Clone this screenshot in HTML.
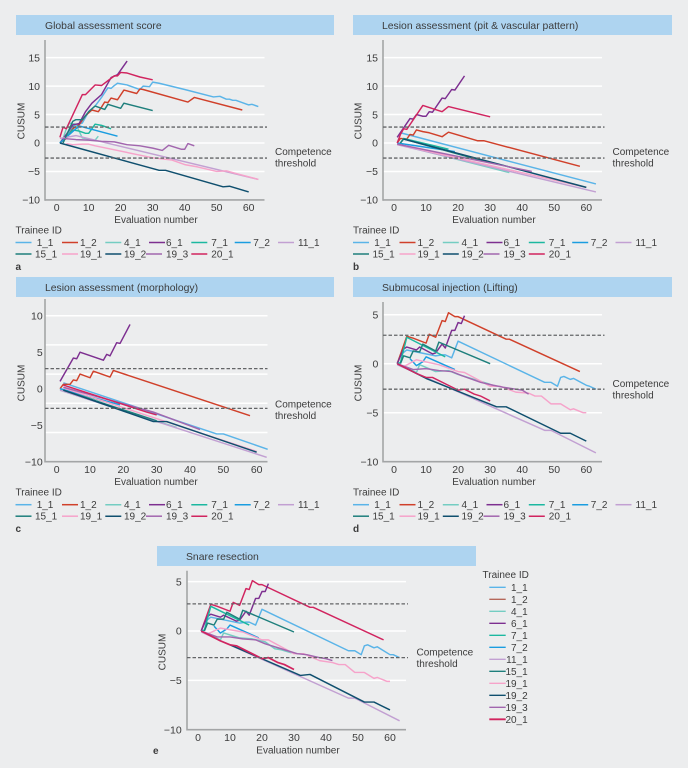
<!DOCTYPE html>
<html lang="en">
<head>
<meta charset="utf-8">
<title>CUSUM learning curves</title>
<style>
html,body{margin:0;padding:0;background:#ecedee;}
svg{display:block;}
text{font-family:"Liberation Sans",sans-serif;font-size:10px;fill:#3c3c3c;}
.tick{font-size:10.500px;}
.title{font-size:10.400px;}
.letter{font-weight:bold;}
</style>
</head>
<body>
<svg id="fig" xmlns="http://www.w3.org/2000/svg" width="688" height="768" viewBox="0 0 688 768">
<rect width="688" height="768" fill="#ecedee"/>

<rect x="16" y="15" width="318" height="20" fill="#aed4f0"/>
<text class="title" x="45" y="29">Global assessment score</text>
<rect x="353" y="15" width="319" height="20" fill="#aed4f0"/>
<text class="title" x="382" y="29">Lesion assessment (pit &amp; vascular pattern)</text>
<rect x="16" y="277" width="318" height="20" fill="#aed4f0"/>
<text class="title" x="45" y="291">Lesion assessment (morphology)</text>
<rect x="353" y="277" width="319" height="20" fill="#aed4f0"/>
<text class="title" x="382" y="291">Submucosal injection (Lifting)</text>
<rect x="157" y="546" width="319" height="20" fill="#aed4f0"/>
<text class="title" x="186" y="560">Snare resection</text>

<text x="156" y="223" text-anchor="middle">Evaluation number</text>
<text x="494" y="223" text-anchor="middle">Evaluation number</text>
<text x="156" y="485" text-anchor="middle">Evaluation number</text>
<text x="494" y="485" text-anchor="middle">Evaluation number</text>
<text x="298" y="753.500" text-anchor="middle">Evaluation number</text>

<text transform="translate(24.500,121) rotate(-90)" text-anchor="middle">CUSUM</text>
<text transform="translate(361.500,121) rotate(-90)" text-anchor="middle">CUSUM</text>
<text transform="translate(24.500,383) rotate(-90)" text-anchor="middle">CUSUM</text>
<text transform="translate(361.500,383) rotate(-90)" text-anchor="middle">CUSUM</text>
<text transform="translate(165.500,652) rotate(-90)" text-anchor="middle">CUSUM</text>

<text x="275" y="155">Competence<tspan x="275" y="166.500">threshold</tspan></text>
<text x="612.500" y="155">Competence<tspan x="612.500" y="166.500">threshold</tspan></text>
<text x="275" y="407.500">Competence<tspan x="275" y="419">threshold</tspan></text>
<text x="612.500" y="387">Competence<tspan x="612.500" y="398.500">threshold</tspan></text>
<text x="416.500" y="655.500">Competence<tspan x="416.500" y="667">threshold</tspan></text>

<text x="15.500" y="233.500">Trainee ID</text>
<text x="353" y="233.500">Trainee ID</text>
<text x="15.500" y="495.500">Trainee ID</text>
<text x="353" y="495.500">Trainee ID</text>
<text x="482.500" y="578">Trainee ID</text>

<text class="letter" x="15.500" y="270">a</text>
<text class="letter" x="353" y="270">b</text>
<text class="letter" x="15.500" y="532">c</text>
<text class="letter" x="353" y="532">d</text>
<text class="letter" x="153" y="754">e</text>
</svg>

<script>
const trainees = ['1_1','1_2','4_1','6_1','7_1','7_2','11_1','15_1','19_1','19_2','19_3','20_1'];
const xTickValues = [0,10,20,30,40,50,60];
const yTicksAB = [15,10,5,0,-5,-10];
const yTicksC = [10,5,0,-5,-10];
const yTicksDE = [5,0,-5,-10];
const gridAB = [15,10,5,0,-5];
const gridC = [10,6,2,-2,-6];
const gridDE = [5,0,-5];

const thresholdsA = [2.8,-2.65];
const thresholdsB = [2.8,-2.65];
const thresholdsC = [2.75,-2.7];
const thresholdsD = [2.9,-2.6];
const thresholdsE = [2.75,-2.7];

/* each series: [evaluation number, CUSUM] breakpoints, in trainee order */
const panelAValues = [
 [[1,0],[3,1],[5,3],[8,3.5],[10,5.5],[12,6.5],[14,8],[16,9.7],[17,9.6],[18,10.1],[19,10.5],[22,10.2],[26,9.4],[27,10],[29,9.9],[30,10.7],[32,10.5],[40,9.4],[49,8.1],[51,8.2],[53,7.7],[54,7.7],[55,7.5],[56,7.5],[60,6.7],[61,6.8],[63,6.4]],
 [[1,0],[3,0.8],[5,2.5],[7,3.2],[9,4.8],[11,5.8],[13,5.5],[14,6.3],[15,7.2],[16,7.1],[17,7.9],[19,7.6],[21,9.3],[25,8.7],[26,9.5],[27,9.4],[41,7.2],[43,8],[58,5.8]],
 [[1,0],[2,0.8],[3,2.5],[4,3.5],[6,3.3],[8,0.9],[10,0.7],[12,0.5],[13,1.2]],
 [[1,0],[3,1.5],[5,3.2],[7,3.4],[9,5.5],[11,7],[14,8.5],[17,11.5],[19,12],[22,14.4]],
 [[1,0],[3,1],[5,2.3],[7,2.1],[9,1.7],[10,1.7],[12,3.3],[14,3.1],[17,2.5]],
 [[1,0],[5,2],[7,3],[19,1.2]],
 [[1,0.8],[6,1.3],[63,-6.4]],
 [[2,0],[5,3.8],[6,4.1],[8,4.1],[10,5.5],[12,6.5],[15,5.9],[16,6.8],[20,6.1],[21,7],[30,5.7]],
 [[3,-0.1],[5,-0.3],[8,-0.2],[10,-0.2],[12,-0.5],[30,-2.6],[36,-3],[40,-3.8],[44,-4.2],[50,-5],[53,-4.9],[57,-5.5],[63,-6.4]],
 [[1,0],[32,-4.8],[34,-4.8],[52,-7.7],[54,-7.6],[60,-8.6]],
 [[2,0.8],[6,0.6],[10,0.5],[14,0.3],[18,0.2],[22,-0.3],[26,-0.5],[30,-0.9],[33,-1.3],[35,-0.4],[39,-1.1],[40,-1.1],[41,-0.1],[43,-0.5]],
 [[1,1],[2,2.8],[3,2.5],[8,8.5],[9,8.5],[12,10.2],[14,10.1],[18,11.8],[19,11.8],[20,12.4],[22,12.3],[26,11.6],[30,11.1]]
];
const panelBValues = [
 [[2,1.8],[63,-7.2]],
 [[1,0],[2,0.8],[4,0.7],[5,1.5],[6,1.4],[7,2.3],[9,2],[11,1.8],[15,1.1],[17,1.9],[26,0.4],[28,0.4],[58,-4.1]],
 [[1,-0.2],[36,-5.2]],
 [[1,1],[5,4.3],[6,4.2],[7,5],[9,4.7],[10,4.7],[11,5.5],[12,5.4],[15,7.9],[16,7.8],[18,9.4],[19,9.3],[22,11.8]],
 [[2,0],[3,0.8],[17,-1.1]],
 [[1,0],[19,-1.5]],
 [[1,-0.3],[63,-8.6]],
 [[2,0],[3,0.7],[30,-3.5]],
 [[1,-0.2],[60,-7.8]],
 [[3,0.7],[60,-7.8]],
 [[1,-0.2],[43,-5]],
 [[1,0],[2,1.5],[3,2.5],[4,2.4],[9,6.6],[15,5.5],[17,6.4],[30,4.6]]
];
const panelCValues = [
 [[2,0.8],[48,-6.2],[50,-6.2],[63.300,-8.300]],
 [[1,0],[2,0.6],[4,0.6],[5,1.2],[6,1.1],[7,2],[10,1.5],[11,2.4],[16,1.6],[17,2.5],[58,-3.7]],
 [[1,-0.2],[29,-4.3],[36,-5.3]],
 [[1,1],[5,4.2],[6,4.1],[7,5],[14,3.9],[15,4.7],[16,4.5],[18,6.3],[19,6.2],[22,8.8]],
 [[1,0],[17,-2.1]],
 [[1,0],[19,-2.2]],
 [[1,-0.2],[63,-9.4]],
 [[2,-0.2],[30,-4.4]],
 [[2,0.1],[60,-8.6]],
 [[2,-0.2],[29,-4.5],[33,-4.5],[60,-8.7]],
 [[2,0.2],[29,-3.2],[43,-5.6]],
 [[2,0.5],[27,-3.2],[30,-3.6]]
];
const panelDValues = [
 [[1,0],[2,0.9],[4,1.4],[13,0.8],[15,0.9],[16,0.9],[18,0.6],[20,2.3],[47,-1.9],[49,-1.9],[51,-2.3],[52,-1.4],[53,-1.3],[55,-1.6],[56,-1.5],[60,-2.2],[61,-2.3],[63,-2.6]],
 [[1,0],[4,2.8],[6,2.6],[10,2.1],[11,3],[13,2.7],[15,4.4],[16,4.3],[17,5.2],[19,4.8],[20,4.8],[35,2.5],[36,2.5],[58,-0.8]],
 [[1,0],[7,-0.9],[8,-0.1],[13,-0.8],[17,-0.7],[20,-1.1],[30,-2.1]],
 [[1,0],[3,1.5],[4,1.7],[7,1.4],[8,1.7],[12,1],[13,1.1],[15,2],[16,1.6],[18,3.4],[19,3.4],[20,4.2],[21,4.1],[22,4.9]],
 [[1,0],[2,0.1],[4,2.7],[16,0.7]],
 [[5,0.5],[7,-0.2],[9,0.2],[10,0.7],[19,-0.6]],
 [[1,-0.1],[47,-6.8],[49,-6.8],[63,-9.1]],
 [[2,0],[3,0.8],[5,0.6],[6,1.3],[8,1.2],[9,2],[13,1.3],[14,2.2],[30,0]],
 [[3,-0.3],[7,0.4],[14,-0.1],[20,-0.8],[22,-0.9],[30,-2.3],[33,-2.3],[38,-2.9],[42,-3],[44,-3.3],[46,-3.3],[49,-4.1],[52,-4.1],[55,-4.7],[56,-4.6],[59,-5],[60,-5]],
 [[1,0],[10,-1.5],[32,-4.4],[35,-4.4],[52,-7.1],[55,-7.1],[60,-7.9]],
 [[1,0],[6,-0.6],[10,-0.5],[14,-0.7],[18,-0.8],[21,-1.2],[27,-1.9],[31,-2.2],[34,-2.4],[38,-2.6],[40,-2.7],[42,-3.1]],
 [[1,0],[7,-1],[10,-1.4],[12,-1.4],[20,-2.7],[22,-2.6],[25,-3.1],[27,-3.3],[30,-3.8]]
];
const panelEValues = [
 [[1,0],[2,0.9],[4,1.4],[13,0.8],[15,0.9],[16,0.9],[18,0.6],[20,2.2],[47,-2],[49,-2],[51,-2.4],[52,-1.5],[53,-1.4],[55,-1.7],[56,-1.6],[60,-2.4],[61,-2.4],[63,-2.7]],
 [[1,0],[4,2.7],[6,2.5],[10,2],[11,2.9],[13,2.6],[15,4.3],[16,4.2],[17,5.1],[19,4.7],[20,4.7],[35,2.4],[36,2.4],[58,-0.9]],
 [[1,0],[7,-0.9],[8,-0.2],[13,-0.7],[17,-0.8],[21,-1.1],[24,-1.8],[26,-1.9],[29,-2.2],[30,-2.2]],
 [[1,0],[3,1.5],[4,1.7],[7,1.4],[8,1.6],[12,1],[13,1.1],[15,2],[16,1.6],[18,3.3],[19,3.3],[20,4],[21,4],[22,4.8]],
 [[1,0],[2,0.1],[4,2.5],[16,0.6]],
 [[5,0.5],[7,-0.2],[9,0.2],[10,0.6],[19,-0.7]],
 [[1,-0.1],[47,-6.8],[49,-6.8],[63,-9.1]],
 [[2,0],[3,0.8],[5,0.6],[6,1.2],[8,1.2],[9,1.9],[13,1.2],[14,2.1],[30,-0.1]],
 [[3,-0.3],[7,0.3],[14,-0.1],[20,-0.9],[22,-0.9],[30,-2.3],[33,-2.3],[38,-3],[42,-3.2],[44,-3.4],[46,-3.4],[49,-4.2],[52,-4.2],[55,-4.8],[56,-4.7],[59,-5.1],[60,-5.1]],
 [[10,-1.4],[32,-4.5],[35,-4.4],[52,-7.2],[55,-7.2],[60,-8]],
 [[1,0],[6,-0.6],[10,-0.6],[14,-0.8],[18,-0.9],[21,-1.3],[27,-1.9],[31,-2.3],[34,-2.4],[38,-2.7],[40,-2.8],[42,-3]],
 [[1,0],[7,-1],[10,-1.4],[12,-1.5],[20,-2.8],[22,-2.7],[25,-3.2],[27,-3.4],[30,-3.9]]
];

const seriesColors = ['#5ab4e8','#d0402a','#74cdc2','#7d2f90','#1cb8a0','#1a9de0','#c2a0d2','#1e7f7c','#f6a3ca','#0f4f6e','#a266ae','#d1245f'];
const legendLayout = [[15.5,36.7],[62,80],[105.3,124],[149,166],[191.3,211.3],[234.7,253.3],[278,298]];
const legendLayout2 = [[15.5,35],[62,80],[105.3,124],[146,166],[191.3,211.3]];

const NS = 'http://www.w3.org/2000/svg';
const svg = document.getElementById('fig');

function mk(parent, tag, attrs, txt) {
  const el = document.createElementNS(NS, tag);
  for (const k in attrs) el.setAttribute(k, attrs[k]);
  if (txt !== undefined) el.textContent = txt;
  parent.appendChild(el);
  return el;
}

function drawPanel(p) {
  const g = mk(svg, 'g', {});
  
  
  const sx = function (v) { return p.x0 + v * p.xk; };
  const sy = function (v) { return p.y0 - v * p.yk; };

  p.grid.forEach(function (v) {
    const gl = mk(g, 'line', {x1: p.axisX, x2: p.axisEnd, y1: sy(v), y2: sy(v), stroke: '#ffffff', 'stroke-width': 1.5});
    
    
  });

  const yAxis = mk(g, 'line', {x1: p.axisX, x2: p.axisX, y1: p.axisTop, y2: sy(-10) + 0.8, stroke: '#a3a5a6', 'stroke-width': 1.6});
  
  
  const xAxis = mk(g, 'line', {x1: p.axisX, x2: p.axisEnd, y1: sy(-10), y2: sy(-10), stroke: '#a3a5a6', 'stroke-width': 1.6});
  
  

  p.yTicks.forEach(function (v) {
    const t = mk(g, 'text', {class: 'tick', x: p.yLabelX, y: sy(v) + 3.7, 'text-anchor': 'end'}, v < 0 ? '\u2212' + Math.abs(v) : String(v));
    
    
  });
  xTickValues.forEach(function (v) {
    const t = mk(g, 'text', {class: 'tick', x: sx(v), y: p.xLabelY, 'text-anchor': 'middle'}, String(v));
    
    
  });

  p.values.forEach(function (pts, i) {
    const d = pts.map(function (q) { return sx(q[0]).toFixed(2) + ',' + sy(q[1]).toFixed(2); }).join(' ');
    const color = (p.colorOverride && p.colorOverride[i]) || seriesColors[i];
    const line = mk(g, 'polyline', {points: d, fill: 'none', stroke: color, 'stroke-width': p.id === 'e' && i >= 11 ? 1.7 : 1.45, 'stroke-linejoin': 'round'});
    
    
  });

  p.thresholds.forEach(function (v) {
    const th = mk(g, 'line', {x1: p.axisX, x2: p.dashEnd, y1: sy(v), y2: sy(v), stroke: '#636567', 'stroke-width': 1.3, 'stroke-dasharray': '3.5 2'});
    
    
  });

  if (p.legend === 'rows') {
    trainees.forEach(function (name, i) {
      const row = i < 7 ? 0 : 1;
      const slot = i < 7 ? legendLayout[i] : legendLayout2[i - 7];
      const y = p.legendY + row * 11.5;
      const sw = mk(g, 'line', {x1: slot[0] + p.legendDx, x2: slot[0] + p.legendDx + 16, y1: y, y2: y, stroke: seriesColors[i], 'stroke-width': 1.5});
      
      
      const lb = mk(g, 'text', {x: slot[1] + p.legendDx, y: y + 3.5}, name);
      
      
    });
  } else {
    trainees.forEach(function (name, i) {
      const y = 587.3 + i * 12;
      const sw = mk(g, 'line', {x1: 489.3, x2: 505.7, y1: y, y2: y, stroke: i === 1 ? '#b5675a' : seriesColors[i], 'stroke-width': i === 11 ? 1.8 : 1.4});
      
      
      const lb = mk(g, 'text', {x: 527.7, y: y + 3.5, 'text-anchor': 'end'}, name);
      
      
    });
  }
}

drawPanel({id:'a', values:panelAValues, thresholds:thresholdsA, yTicks:yTicksAB, grid:gridAB,
  x0:56.7, xk:3.2, y0:143, yk:5.69, axisX:45, axisEnd:264.5, dashEnd:267, axisTop:40, yLabelX:40, xLabelY:211,
  legend:'rows', legendY:242.5, legendDx:0});
drawPanel({id:'b', values:panelBValues, thresholds:thresholdsB, yTicks:yTicksAB, grid:gridAB,
  x0:394, xk:3.205, y0:143, yk:5.69, axisX:383, axisEnd:602, dashEnd:604.5, axisTop:40, yLabelX:378, xLabelY:211,
  legend:'rows', legendY:242.5, legendDx:337.5});
drawPanel({id:'c', values:panelCValues, thresholds:thresholdsC, yTicks:yTicksC, grid:gridC,
  x0:56.7, xk:3.333, y0:388.7, yk:7.3, axisX:45, axisEnd:267.5, dashEnd:267.5, axisTop:299, yLabelX:42.7, xLabelY:473,
  legend:'rows', legendY:504.7, legendDx:0});
drawPanel({id:'d', values:panelDValues, thresholds:thresholdsD, yTicks:yTicksDE, grid:gridDE,
  x0:394, xk:3.205, y0:363.7, yk:9.8, axisX:383, axisEnd:602, dashEnd:604.5, axisTop:302, yLabelX:378.3, xLabelY:473,
  legend:'rows', legendY:504.7, legendDx:337.5});
drawPanel({id:'e', values:panelEValues, thresholds:thresholdsE, yTicks:yTicksDE, grid:gridDE,
  x0:198, xk:3.2, y0:631, yk:9.87, axisX:187, axisEnd:406, dashEnd:408, axisTop:570.7, yLabelX:181.7, xLabelY:741,
  colorOverride:{1:'#d1245f'}, legend:'column'});
</script>
</body>
</html>
